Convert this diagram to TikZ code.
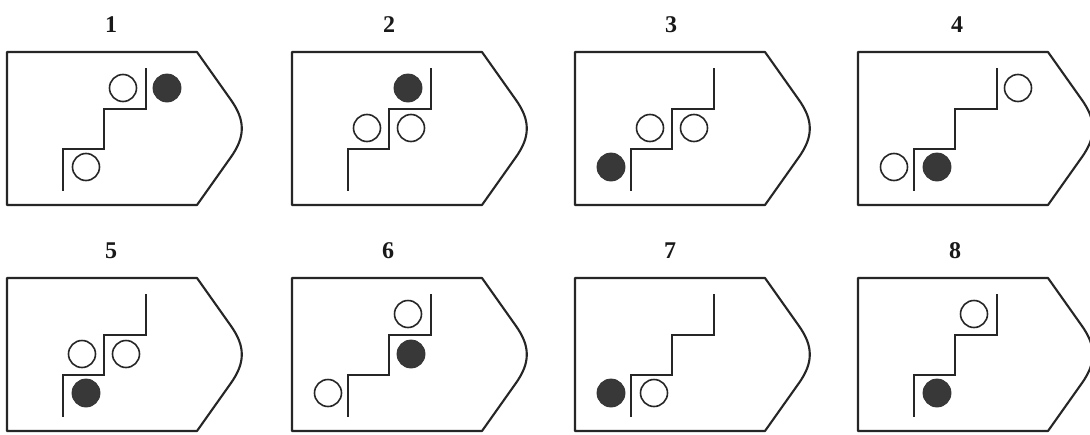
\documentclass[tikz,border=0pt]{standalone}
\usepackage{fontspec}
\setmainfont{Liberation Serif}
\begin{document}
\begin{tikzpicture}[x=1pt,y=-1pt,
  outline/.style={draw=black!85,line width=2.1pt,line join=round},
  stair/.style={draw=black!85,line width=2pt},
  oc/.style={circle,draw=black!85,line width=1.6pt,minimum size=27pt,inner sep=0pt,fill=white},
  fc/.style={circle,draw=black!80,line width=0.8pt,fill=black!78,minimum size=28pt,inner sep=0pt},
  lbl/.style={font=\fontsize{24}{24}\selectfont\bfseries,text=black!90}]
\clip (0,0) rectangle (1090,434);
\fill[white] (0,0) rectangle (1090,434);
\newcommand\mypanel[5]{%
  \begin{scope}[shift={(#1,#2)}]
    \draw[outline] (0,52) -- (190,52) -- (224,100) .. controls (238.4,120.4) and (238.4,136.6) .. (224,157) -- (190,205) -- (0,205) -- cycle;
    \draw[stair] (139,68) -- (139,109) -- (97,109) -- (97,149) -- (56,149) -- (56,191);
    \coordinate (A) at (116,88);
    \coordinate (B) at (160,88);
    \coordinate (C) at (75,128);
    \coordinate (D) at (119,128);
    \coordinate (F) at (79,167);
    \coordinate (G) at (36,167);
    \node[lbl] (lab) at (#3,25) {#4};
    #5
  \end{scope}}
\mypanel{7}{0}{104}{1}{\node[oc] (p1a) at (A) {}; \node[fc] (p1b) at (B) {}; \node[oc] (p1c) at (F) {};}
\mypanel{292}{0}{97}{2}{\node[fc] (p2a) at (A) {}; \node[oc] (p2b) at (C) {}; \node[oc] (p2c) at (D) {};}
\mypanel{575}{0}{96}{3}{\node[oc] (p3a) at (C) {}; \node[oc] (p3b) at (D) {}; \node[fc] (p3c) at (G) {};}
\mypanel{858}{0}{99}{4}{\node[oc] (p4a) at (B) {}; \node[fc] (p4b) at (F) {}; \node[oc] (p4c) at (G) {};}
\mypanel{7}{226}{104}{5}{\node[oc] (p5a) at (C) {}; \node[oc] (p5b) at (D) {}; \node[fc] (p5c) at (F) {};}
\mypanel{292}{226}{96}{6}{\node[oc] (p6a) at (A) {}; \node[fc] (p6b) at (D) {}; \node[oc] (p6c) at (G) {};}
\mypanel{575}{226}{95}{7}{\node[fc] (p7a) at (G) {}; \node[oc] (p7b) at (F) {};}
\mypanel{858}{226}{97}{8}{\node[oc] (p8a) at (A) {}; \node[fc] (p8b) at (F) {};}
\end{tikzpicture}
\end{document}
